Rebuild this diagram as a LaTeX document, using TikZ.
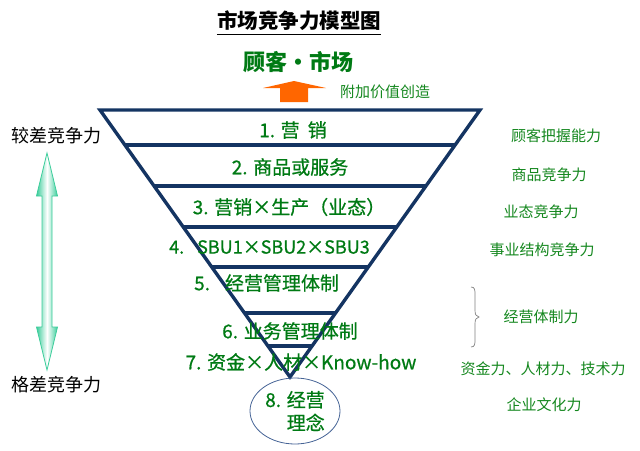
\documentclass[tikz,border=0pt]{standalone}
\usepackage{fontspec}
\setmainfont{Noto Sans CJK SC}
\newfontfamily\medfont{Noto Sans CJK SC}[FakeBold=0.7]
\usetikzlibrary{calc,shapes.geometric}
\definecolor{navy}{RGB}{20,52,98}
\definecolor{tgreen}{RGB}{0,122,20}
\definecolor{lgreen}{RGB}{20,135,30}
\definecolor{arrorange}{RGB}{255,102,0}
\definecolor{mint}{RGB}{60,205,155}
\definecolor{ellcol}{RGB}{70,100,150}
\tikzset{
  tri/.style={draw=navy, line width=3.4pt, line join=miter},
  band/.style={draw=navy, line width=3.4pt},
  tritext/.style={text=tgreen, font=\medfont\fontsize{19}{23}\selectfont, inner sep=0pt},
  rlabel/.style={text=lgreen, font=\fontsize{15}{18}\selectfont, inner sep=0pt},
  llabel/.style={text=black, font=\fontsize{18}{21}\selectfont, inner sep=0pt},
}
\begin{document}
\begin{tikzpicture}[x=1pt,y=-1pt]
\useasboundingbox (0,0) rectangle (640,450);
% title
\node[font=\fontsize{20.5}{24}\selectfont\bfseries, inner sep=0pt] (title) at (299,21) {市场竞争力模型图};
\draw[line width=1.2pt] ([yshift=-3pt]title.south west) -- ([yshift=-3pt]title.south east);
\node[text=tgreen, font=\fontsize{22}{26}\selectfont\bfseries, inner sep=0pt] (market) at (298,62) {顾客·市场};
% orange arrow
\fill[arrorange] (280,102) -- (280,88) -- (263,88) -- (294,81) -- (326,88) -- (308,88) -- (308,102) -- cycle;
\node[text=lgreen, font=\fontsize{15}{18}\selectfont, inner sep=0pt] (value) at (385,92) {附加价值创造};
% triangle
\coordinate (TL) at (100,110);
\coordinate (TR) at (480,110);
\coordinate (AP) at (290,377);
\draw[tri] (TL) -- (TR) -- (AP) -- cycle;
\foreach \t in {0.1311,0.2846,0.4382,0.5880,0.7603,0.8839}{
  \draw[band] ($(TL)!\t!(AP)$) -- ($(TR)!\t!(AP)$);
}
% triangle texts
\node[tritext] (t1) at (293,130) {1. 营\hspace{8pt}销};
\node[tritext] (t2) at (290,167) {2. 商品或服务};
\node[tritext] (t3) at (289,207) {3. 营销×生产（业态）};
\node[tritext, anchor=west, font=\medfont\fontsize{18}{22}\selectfont] (t4) at (169,247) {4.\hspace{13pt}SBU1×SBU2×SBU3};
\node[tritext, anchor=west] (t5) at (194,283) {5.\hspace{15pt}经营管理体制};
\node[tritext] (t6) at (290,331) {6. 业务管理体制};
\node[tritext] (t7) at (301,362) {7. 资金×人材×Know-how};
% ellipse
\node[draw=ellcol, line width=0.8pt, ellipse, minimum width=90pt, minimum height=66pt, inner sep=0pt] (e8) at (295,411) {};
\node[tritext, align=right] (t8) at (e8.center) {8. 经营\\理念};
% left labels and double arrow
\node[llabel] (l1) at (57,136) {较差竞争力};
\node[llabel] (l2) at (57,385) {格差竞争力};
\path[draw=mint, line width=0.8pt, left color=mint, right color=mint, middle color=white]
  (47,153) -- (57.5,196) -- (52,196) -- (52,327) -- (57.5,327) -- (47,370)
  -- (36.5,327) -- (42,327) -- (42,196) -- (36.5,196) -- cycle;
% right labels
\node[rlabel] (r1) at (556,136) {顾客把握能力};
\node[rlabel] (r2) at (549,175) {商品竞争力};
\node[rlabel] (r3) at (541,212) {业态竞争力};
\node[rlabel] (r4) at (542,250) {事业结构竞争力};
\node[rlabel] (r5) at (541,317) {经营体制力};
\node[rlabel] (r6) at (543,369) {资金力、人材力、技术力};
\node[rlabel] (r7) at (544,405) {企业文化力};
% brace
\draw[gray, line width=0.7pt] (471,287) .. controls (475,287) and (475,290) .. (475,295)
  -- (475,310) .. controls (475,315) and (476,316) .. (479,317)
  .. controls (476,318) and (475,319) .. (475,324)
  -- (475,339) .. controls (475,344) and (475,347) .. (471,347);
\end{tikzpicture}
\end{document}
